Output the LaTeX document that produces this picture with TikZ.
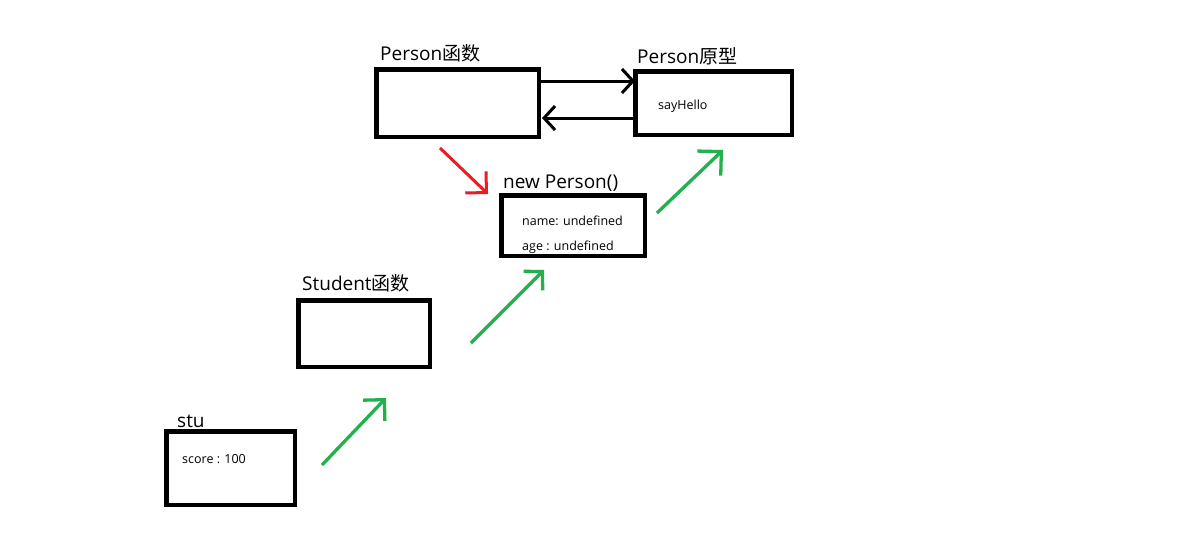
\documentclass[tikz,border=0pt]{standalone}
\usepackage{fontspec}
\setmainfont{Open Sans}
\newfontfamily\cjk{Noto Sans CJK SC}
\usetikzlibrary{arrows.meta}
\definecolor{pgreen}{HTML}{22B14C}
\definecolor{pred}{HTML}{ED1C24}
\tikzset{
  box/.style={draw=black, line width=4.5pt, fill=white, inner sep=0pt},
  title/.style={anchor=base west, inner sep=0pt, font=\fontsize{19}{23}\selectfont},
  small/.style={anchor=base west, inner sep=0pt, font=\fontsize{12.5}{15}\selectfont},
  blkarrow/.style={draw=black, line width=3pt, -{Straight Barb[length=11pt,width=24pt]}},
  redarrow/.style={draw=pred, line width=3pt, -{Straight Barb[length=15pt,width=30pt]}},
  grnarrow/.style={draw=pgreen, line width=3.3pt},
}
\begin{document}
\begin{tikzpicture}[x=1pt,y=-1pt]
\useasboundingbox[fill=white] (0,0) rectangle (1187,544);
% boxes
\node[box, minimum width=162.5pt, minimum height=67.5pt] (pf) at (457.5,103) {};
\node[box, minimum width=156.5pt, minimum height=63.5pt] (pp) at (713.5,103) {};
\node[box, minimum width=143.5pt, minimum height=60.5pt] (np) at (573,225.5) {};
\node[box, minimum width=131.5pt, minimum height=66.5pt] (sf) at (364,333.5) {};
\node[box, minimum width=128.5pt, minimum height=73.5pt] (stu) at (230.5,468) {};
% titles
\node[title] (tpf) at (380,60) {Person{\cjk 函数}};
\node[title] (tpp) at (637,63) {Person{\cjk 原型}};
\node[title] (tnp) at (503,188) {new Person()};
\node[title] (tsf) at (302,290) {Student{\cjk 函数}};
\node[title] (tstu) at (177,427) {stu};
% inner texts
\node[small] (say) at (658,109) {sayHello};
\node[small] (nm) at (522,225) {name: undefined};
\node[small] (ag) at (522,250) {age : undefined};
\node[small] (sc) at (182,463) {score : 100};
% black arrows
\coordinate (ya) at (0,81);
\coordinate (yb) at (0,118);
\draw[blkarrow] (pf.east |- ya) -- ([xshift=2pt]pp.west |- ya);
\draw[blkarrow] (pp.west |- yb) -- ([xshift=1pt]pf.east |- yb);
% red arrow
\coordinate (r1) at (440,148);
\coordinate (r2) at (488,194);
\draw[redarrow] (r1) -- (r2);
% green arrows
\coordinate (g1s) at (657,213);
\coordinate (g1e) at (723,150);
\coordinate (g2s) at (471,343);
\coordinate (g2e) at (544,270);
\coordinate (g3s) at (322,465);
\coordinate (g3e) at (386,398);
\draw[grnarrow, -{Straight Barb[length=17pt,width=34pt]}] (g1s) -- (g1e);
\draw[grnarrow, -{Straight Barb[length=13pt,width=27pt]}] (g2s) -- (g2e);
\draw[grnarrow, -{Straight Barb[length=15pt,width=30pt]}] (g3s) -- (g3e);
\end{tikzpicture}
\end{document}
